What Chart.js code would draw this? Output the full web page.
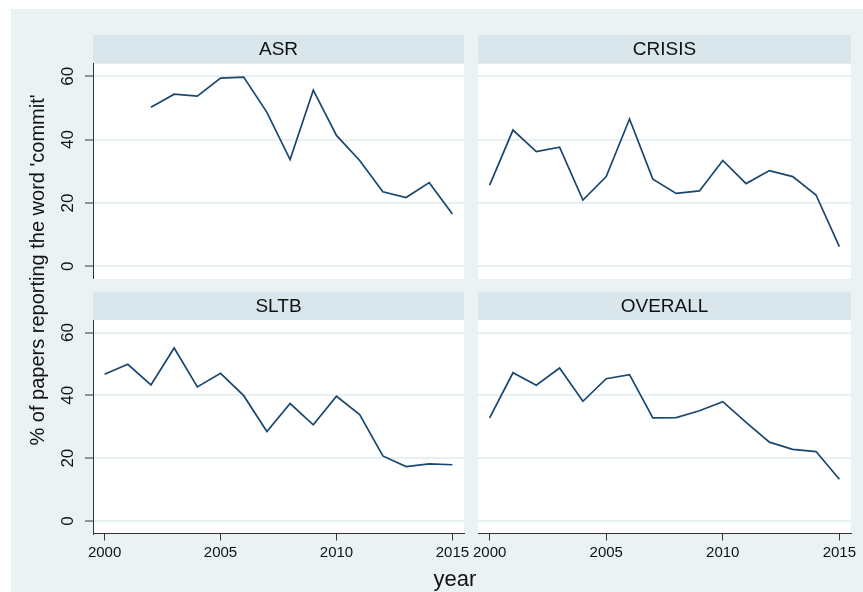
<!doctype html>
<html lang="en">

<head>
    <meta charset="utf-8">
    <script src="https://cdn.jsdelivr.net/npm/chart.js@4.4.0/dist/chart.umd.min.js"></script>

    <style>
        body { margin: 0; background: #ffffff; font-family: "Liberation Sans", Arial, sans-serif; }
        #frame { position: absolute; left: 11px; top: 9px; right: 0; bottom: 0; background: #eaf2f3; }
        canvas { position: absolute; }
        .ytitle {
            position: absolute; left: -163px; top: 257px; width: 400px; line-height: 26px;
            text-align: center; font-size: 20px; color: #111; transform: rotate(-90deg);
        }
        .xtitle {
            position: absolute; left: 355px; top: 566px; width: 200px; line-height: 26px;
            text-align: center; font-size: 22px; color: #111;
        }
    </style>

    <title>commit by journal</title>
</head>

<body>
    <div id="frame"></div>
    <canvas id="c0" width="430" height="244" style="left:40px;top:35px"></canvas>
    <canvas id="c1" width="393" height="244" style="left:470px;top:35px"></canvas>
    <canvas id="c2" width="430" height="275" style="left:40px;top:292px"></canvas>
    <canvas id="c3" width="393" height="275" style="left:470px;top:292px"></canvas>
    <div class="ytitle">% of papers reporting the word 'commit'</div>
    <div class="xtitle">year</div>

    <script type="text/javascript">
        // data
        var years = [2000, 2001, 2002, 2003, 2004, 2005, 2006, 2007, 2008, 2009, 2010, 2011, 2012, 2013, 2014, 2015];
        var asr = [null, null, 50.2, 54.3, 53.7, 59.4, 59.7, 48.6, 33.7, 55.6, 41.3, 33.4, 23.5, 21.7, 26.4, 16.5];
        var crisis = [25.6, 43.0, 36.2, 37.6, 20.9, 28.3, 46.5, 27.5, 23.0, 23.8, 33.4, 26.1, 30.2, 28.3, 22.5, 6.2];
        var sltb = [46.7, 49.9, 43.3, 55.1, 42.7, 47.0, 39.9, 28.5, 37.4, 30.6, 39.7, 33.9, 20.7, 17.3, 18.2, 17.9];
        var overall = [32.8, 47.2, 43.2, 48.7, 38.1, 45.3, 46.6, 32.8, 32.9, 35.1, 38.0, 31.4, 25.1, 22.8, 22.1, 13.3];
        var xTicks = [2000, 2005, 2010, 2015];
        var yTicks = [0, 20, 40, 60];
        var panelTitles = ['ASR', 'CRISIS', 'SLTB', 'OVERALL'];
        var panelValues = [asr, crisis, sltb, overall];

        const LINE = '#1a476f';
        const AXIS = '#333333';
        const HEADER = '#d9e6eb';
        const FONT = '"Liberation Sans", Arial, sans-serif';

        // header band + white plot region, Stata style
        const panelPlugin = {
            id: 'panel',
            beforeDraw(chart, args, opts) {
                var ctx = chart.ctx, a = chart.chartArea;
                ctx.save();
                ctx.fillStyle = '#ffffff';
                ctx.fillRect(a.left, a.top, a.right - a.left, a.bottom - a.top);
                ctx.fillStyle = HEADER;
                ctx.fillRect(a.left, a.top - opts.band, a.right - a.left, opts.band);
                ctx.fillStyle = '#111';
                ctx.font = '19px ' + FONT;
                ctx.textAlign = 'center';
                ctx.textBaseline = 'middle';
                ctx.fillText(opts.title, (a.left + a.right) / 2, a.top - opts.band / 2 + 1);
                ctx.restore();
            }
        };

        function makePanel(i) {
            var left = (i % 2 === 0);
            var bottom = (i >= 2);
            var band = bottom ? 28 : 28.5;
            var points = years.map((y, k) => ({ x: y, y: panelValues[i][k] }));

            new Chart(document.getElementById('c' + i), {
                type: 'line',
                data: {
                    datasets: [{
                        data: points,
                        borderColor: LINE,
                        borderWidth: 1.7,
                        pointRadius: 0,
                        tension: 0,
                        fill: false,
                    }]
                },
                options: {
                    responsive: false,
                    animation: false,
                    devicePixelRatio: 1,
                    layout: { padding: { top: band, right: left ? 6 : 12, left: left ? 0 : 8, bottom: 0 } },
                    plugins: {
                        legend: { display: false },
                        tooltip: { enabled: false },
                        panel: { title: panelTitles[i], band: band },
                    },
                    scales: {
                        x: {
                            type: 'linear',
                            min: 1999.5,
                            max: 2015.5,
                            display: bottom,
                            afterBuildTicks: (s) => { s.ticks = xTicks.map(v => ({ value: v })); },
                            afterFit: (s) => { s.height = bottom ? 33.5 : 0; s.paddingLeft = 0; s.paddingRight = 0; },
                            grid: { drawOnChartArea: false, drawTicks: true, tickLength: 7, tickColor: AXIS, tickWidth: 1 },
                            border: { display: true, color: AXIS, width: 1 },
                            ticks: {
                                color: '#111', font: { family: FONT, size: 15 }, padding: 3, maxRotation: 0, autoSkip: false,
                                callback: (v) => String(v)
                            },
                        },
                        y: {
                            type: 'linear',
                            min: -4,
                            max: 64,
                            afterBuildTicks: (s) => { s.ticks = yTicks.map(v => ({ value: v })); },
                            afterFit: (s) => { s.width = left ? 53 : 0; s.paddingTop = 0; s.paddingBottom = 0; },
                            grid: { color: '#e8f0f3', lineWidth: 2, drawTicks: left, tickLength: 8, tickColor: AXIS, tickWidth: 1 },
                            border: { display: left, color: AXIS, width: 1 },
                            ticks: {
                                display: left, color: '#111', font: { family: FONT, size: 17 },
                                padding: 7, minRotation: 90, maxRotation: 90, crossAlign: 'center', autoSkip: false,
                                callback: (v) => String(v)
                            },
                        }
                    }
                },
                plugins: [panelPlugin]
            });
        }

        for (var i = 0; i < 4; i++) makePanel(i);
    </script>
</body>

</html>
